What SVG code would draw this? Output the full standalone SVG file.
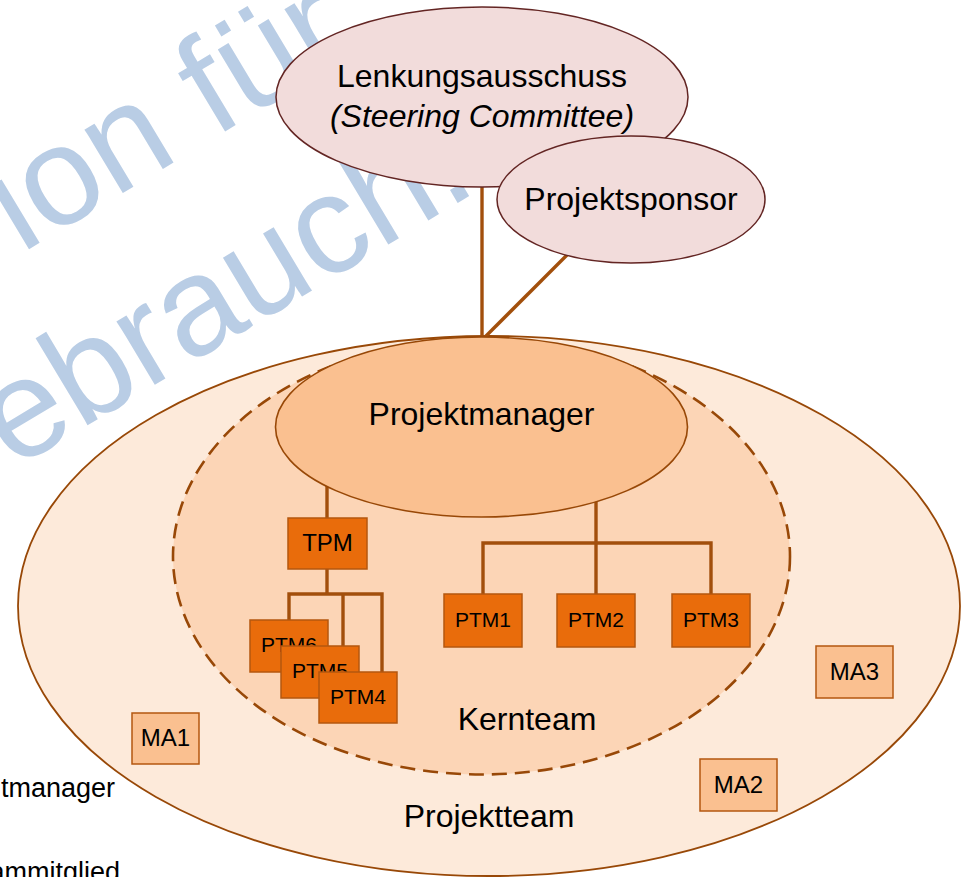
<svg xmlns="http://www.w3.org/2000/svg" width="963" height="877" viewBox="0 0 963 877">
  <style>
    text { font-family: "Liberation Sans", Arial, sans-serif; fill: #000; }
    .big { font-size: 32px; text-anchor: middle; }
    .box-lbl { font-size: 21px; text-anchor: middle; }
    .ma-lbl { font-size: 24px; text-anchor: middle; }
    .legend { font-size: 27px; text-anchor: end; }
    .mark { font-size: 140px; fill: #b9cde5; }
    .board { fill: #f2dcdb; stroke: #632523; stroke-width: 1.5; }
    .ptm { fill: #e96c0b; stroke: #b4570f; stroke-width: 1.5; }
    .ma { fill: #fac090; stroke: #b4570f; stroke-width: 1.5; }
    .link { fill: none; stroke: #a24f0c; stroke-width: 3.4; stroke-linecap: butt; }
  </style>

  <!-- background watermark -->
  <g id="watermark">
    <text class="mark" transform="translate(21,254) rotate(-31)">ion für</text>
    <text class="mark" transform="translate(13,470) rotate(-31)">ebrauch.</text>
  </g>

  <!-- team areas -->
  <g id="projektteam">
    <ellipse cx="489" cy="606" rx="471" ry="270" fill="#fdeada" stroke="#984807" stroke-width="1.8"/>
    <text class="big" x="489" y="827">Projektteam</text>
  </g>
  <g id="kernteam">
    <ellipse cx="481.5" cy="556.5" rx="308.5" ry="218" fill="#fcd5b6" stroke="#984807" stroke-width="2.6" stroke-dasharray="15 8"/>
    <text class="big" x="527" y="730">Kernteam</text>
  </g>

  <!-- connectors -->
  <g id="connectors">
    <line class="link" x1="482" y1="180" x2="482" y2="340"/>
    <line class="link" x1="567" y1="255" x2="482" y2="340"/>
    <polyline class="link" points="327,440 327,520"/>
    <polyline class="link" points="327,568 327,594"/>
    <polyline class="link" points="289,622 289,594 382,594 382,674"/>
    <line class="link" x1="343" y1="594" x2="343" y2="648"/>
    <line class="link" x1="596" y1="440" x2="596" y2="596"/>
    <polyline class="link" points="483,596 483,543 711,543 711,596"/>
  </g>

  <!-- steering level -->
  <g id="lenkungsausschuss">
    <ellipse class="board" cx="482" cy="97" rx="206" ry="90"/>
    <text class="big" x="482" y="87">Lenkungsausschuss</text>
    <text class="big" x="482" y="127" font-style="italic">(Steering Committee)</text>
  </g>
  <g id="projektsponsor">
    <ellipse class="board" cx="631" cy="199.5" rx="134" ry="63.5"/>
    <text class="big" x="631" y="210">Projektsponsor</text>
  </g>

  <g id="projektmanager">
    <ellipse cx="481.5" cy="427" rx="206" ry="90" fill="#fac090" stroke="#984807" stroke-width="1.6"/>
    <text class="big" x="481.5" y="425">Projektmanager</text>
  </g>

  <!-- core team members -->
  <g id="tpm">
    <rect class="ptm" x="288" y="518" width="79" height="51"/>
    <text x="327.5" y="551" font-size="24" text-anchor="middle">TPM</text>
  </g>
  <g id="ptm6">
    <rect class="ptm" x="250" y="620" width="78" height="52"/>
    <text class="box-lbl" x="289" y="652">PTM6</text>
  </g>
  <g id="ptm5">
    <rect class="ptm" x="281" y="646" width="78" height="52"/>
    <text class="box-lbl" x="320" y="678">PTM5</text>
  </g>
  <g id="ptm4">
    <rect class="ptm" x="319" y="672" width="78" height="51"/>
    <text class="box-lbl" x="358" y="704">PTM4</text>
  </g>
  <g id="ptm1">
    <rect class="ptm" x="444" y="594" width="78" height="53"/>
    <text class="box-lbl" x="483" y="627">PTM1</text>
  </g>
  <g id="ptm2">
    <rect class="ptm" x="557" y="594" width="78" height="53"/>
    <text class="box-lbl" x="596" y="627">PTM2</text>
  </g>
  <g id="ptm3">
    <rect class="ptm" x="672" y="594" width="78" height="53"/>
    <text class="box-lbl" x="711" y="627">PTM3</text>
  </g>

  <!-- wider team members -->
  <g id="ma1">
    <rect class="ma" x="132" y="713" width="67" height="51"/>
    <text class="ma-lbl" x="165.5" y="746">MA1</text>
  </g>
  <g id="ma2">
    <rect class="ma" x="700" y="759" width="77" height="52"/>
    <text class="ma-lbl" x="738.5" y="793">MA2</text>
  </g>
  <g id="ma3">
    <rect class="ma" x="816" y="646" width="77" height="52"/>
    <text class="ma-lbl" x="854.5" y="680">MA3</text>
  </g>

  <!-- legend -->
  <g id="legend">
    <text class="legend" x="115" y="797">tmanager</text>
    <text class="legend" x="120" y="881">ammitglied</text>
  </g>
</svg>
